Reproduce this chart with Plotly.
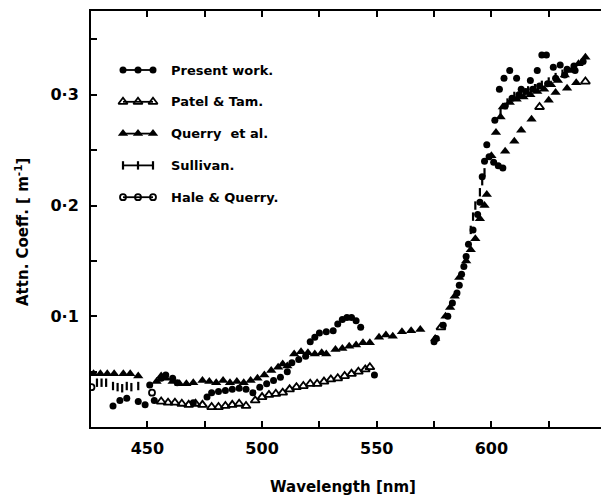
import plotly.graph_objects as go

# ---------------- data ----------------
present_x = [435, 438, 441, 446, 449, 451, 453, 456, 458, 461, 463, 470, 476, 478, 481, 484, 487,
             490, 493, 496, 499, 502, 505, 508, 511, 513, 516, 519, 521, 523, 525, 528, 531, 533,
             535, 537, 539, 541, 543, 549, 575, 576, 579, 581, 583, 585, 586, 587, 588, 589, 590,
             592, 594, 595, 596, 597, 598, 599, 601, 603, 605, 601.5, 603.5, 605.5, 608, 611, 613,
             617, 620, 622, 624, 627, 630, 633, 636, 606, 609, 612, 615, 618, 621, 624.5, 628, 632,
             636.5, 640]
present_y = [0.019, 0.024, 0.026, 0.023, 0.020, 0.038, 0.024, 0.044, 0.047, 0.044, 0.040, 0.022,
             0.027, 0.031, 0.032, 0.033, 0.034, 0.035, 0.034, 0.031, 0.036, 0.039, 0.042, 0.045,
             0.050, 0.058, 0.061, 0.064, 0.077, 0.081, 0.085, 0.086, 0.087, 0.093, 0.097, 0.099,
             0.099, 0.096, 0.090, 0.047, 0.077, 0.080, 0.092, 0.100, 0.112, 0.121, 0.128, 0.138,
             0.145, 0.154, 0.165, 0.178, 0.192, 0.203, 0.226, 0.240, 0.255, 0.244, 0.239, 0.236,
             0.234, 0.277, 0.305, 0.315, 0.322, 0.315, 0.305, 0.313, 0.322, 0.336, 0.336, 0.325,
             0.327, 0.323, 0.326, 0.290, 0.297, 0.300, 0.303, 0.305, 0.308, 0.310, 0.315, 0.318,
             0.322, 0.330]

patel_x = [456, 459, 462, 465, 468, 471, 474, 478, 481, 484, 487, 490, 493, 497, 500, 503, 506,
           509, 512, 515, 518, 521, 524, 527, 530, 533, 536, 539, 542, 545, 547, 578, 621, 641]
patel_y = [0.023, 0.022, 0.022, 0.021, 0.020, 0.021, 0.020, 0.018, 0.018, 0.019, 0.020, 0.021,
           0.019, 0.024, 0.027, 0.029, 0.030, 0.031, 0.034, 0.036, 0.037, 0.039, 0.039, 0.041,
           0.043, 0.044, 0.046, 0.048, 0.050, 0.052, 0.054, 0.090, 0.289, 0.312]

querry_x = [426.5, 429.5, 432.5, 435.5, 439.5, 442.5, 446, 454, 456, 458, 461, 464, 467, 470, 474,
            477, 480, 483, 486, 489, 492, 495, 498, 501, 504, 507, 509, 511, 514, 517, 520, 523,
            526, 528, 532, 535, 538, 541, 544, 547, 551, 554, 557, 561, 565, 569, 575.5, 580, 582,
            584, 586, 589, 591, 593, 595, 597, 598, 600, 602, 604, 605, 608, 611, 614, 617, 620,
            623, 626, 629, 632, 635, 638, 641, 606, 610, 613, 617.5, 625, 628, 633, 637]
querry_y = [0.048, 0.048, 0.048, 0.048, 0.048, 0.048, 0.046, 0.041, 0.046, 0.044, 0.041, 0.039,
            0.039, 0.040, 0.042, 0.041, 0.040, 0.042, 0.040, 0.041, 0.040, 0.042, 0.044, 0.047,
            0.051, 0.054, 0.057, 0.055, 0.066, 0.068, 0.067, 0.066, 0.067, 0.066, 0.070, 0.071,
            0.073, 0.074, 0.076, 0.076, 0.081, 0.083, 0.082, 0.086, 0.087, 0.088, 0.080, 0.100,
            0.108, 0.118, 0.135, 0.150, 0.160, 0.170, 0.188, 0.200, 0.210, 0.245, 0.266, 0.280,
            0.289, 0.293, 0.296, 0.298, 0.300, 0.303, 0.305, 0.309, 0.313, 0.318, 0.322, 0.328,
            0.334, 0.249, 0.258, 0.268, 0.278, 0.295, 0.302, 0.306, 0.311]

sullivan_x = [428, 430, 432, 435, 437, 439, 441, 443, 446, 591, 592, 593, 595, 596, 597, 604, 607,
              610, 613, 616, 619, 622, 625, 628, 631]
sullivan_y = [0.040, 0.040, 0.040, 0.037, 0.036, 0.035, 0.037, 0.036, 0.037, 0.178, 0.190, 0.200,
              0.212, 0.222, 0.230, 0.285, 0.293, 0.299, 0.302, 0.304, 0.306, 0.309, 0.312, 0.316,
              0.319]

hale_x = [425.6, 452]
hale_y = [0.036, 0.031]

series_names = ["Present work.", "Patel & Tam.", "Querry  et al.", "Sullivan.", "Hale & Querry."]
x_tick_vals = [450, 500, 550, 600]
x_minor_vals = [475, 525, 575, 625]
y_tick_vals = [0.1, 0.2, 0.3]
y_tick_text = ["0·1", "0·2", "0·3"]

# ---------------- styles ----------------
FONT = "DejaVu Sans"
styles = [
    dict(symbol="circle", size=7, color="black", line=dict(width=0)),
    dict(symbol="triangle-up-open", size=8, color="black", line=dict(width=1.8, color="black")),
    dict(symbol="triangle-up", size=9, color="black", line=dict(width=0)),
    dict(symbol="line-ns", size=6, color="black", line=dict(width=2.2, color="black")),
    dict(symbol="circle-open", size=6, color="black", line=dict(width=1.8, color="black")),
]
all_x = [present_x, patel_x, querry_x, sullivan_x, hale_x]
all_y = [present_y, patel_y, querry_y, sullivan_y, hale_y]

fig = go.Figure()
for xs, ys, st, nm in zip(all_x, all_y, styles, series_names):
    fig.add_trace(go.Scatter(x=xs, y=ys, mode="markers", marker=st, name=nm,
                             showlegend=False, cliponaxis=True))

# ---------------- hand-drawn style legend on an overlay pixel axis ----------------
W, H = 601, 498
L, R, T, B = 91, 0, 11, 71
pw, ph = W - L - R, H - T - B
leg_row0, leg_dy = 59, 31.8
leg_x0, leg_dx = 32, 15
for i, (st, nm) in enumerate(zip(styles, series_names)):
    yy = leg_row0 + i * leg_dy
    fig.add_trace(go.Scatter(x=[leg_x0 + k * leg_dx for k in range(3)], y=[yy] * 3,
                             mode="lines+markers", marker=st, line=dict(color="black", width=1.8),
                             xaxis="x2", yaxis="y2", showlegend=False, hoverinfo="skip"))
    fig.add_annotation(x=leg_x0 + 2 * leg_dx + 16, y=yy, xref="x2", yref="y2", text=nm,
                       showarrow=False, xanchor="left", yanchor="middle",
                       font=dict(family=FONT, size=13, color="black", weight="bold"))

axis_common = dict(showline=True, linecolor="black", linewidth=2, ticks="inside",
                   tickcolor="black", tickwidth=1.8, ticklen=6, showgrid=False, zeroline=False)

fig.update_layout(
    width=W, height=H, margin=dict(l=L, r=R, t=T, b=B),
    plot_bgcolor="white", paper_bgcolor="white",
    font=dict(family=FONT, color="black"),
    xaxis=dict(range=[425.4, 647.8], tickvals=x_tick_vals, mirror="ticks",
               tickfont=dict(family=FONT, size=16, color="black", weight="bold"),
               minor=dict(tickvals=x_minor_vals, ticks="inside", ticklen=6, tickwidth=1.8,
                          tickcolor="black"),
               ticklabelstandoff=6, **axis_common),
    yaxis=dict(range=[0, 0.3757], tickvals=y_tick_vals, ticktext=y_tick_text,
               tickfont=dict(family=FONT, size=16, color="black", weight="bold"),
               minor=dict(dtick=0.05, tick0=0, ticks="inside", ticklen=6, tickwidth=1.8,
                          tickcolor="black"),
               ticklabelstandoff=7, **axis_common),
    xaxis2=dict(range=[0, pw], overlaying="x", visible=False, fixedrange=True),
    yaxis2=dict(range=[ph, 0], overlaying="y", visible=False, fixedrange=True),
)

# axis titles placed from pixel positions converted to paper coordinates
fig.add_annotation(x=(343 - L) / pw, y=(H - B - 487) / ph, xref="paper", yref="paper",
                   text="Wavelength [nm]", showarrow=False, xanchor="center", yanchor="middle",
                   font=dict(family=FONT, size=15, color="black", weight="bold"))
fig.add_annotation(x=(22 - L) / pw, y=(H - B - 232) / ph, xref="paper", yref="paper",
                   text="Attn. Coeff. [ m<sup>-1</sup>]", textangle=-90, showarrow=False,
                   xanchor="center", yanchor="middle",
                   font=dict(family=FONT, size=15, color="black", weight="bold"))

fig.write_html("out.html")
